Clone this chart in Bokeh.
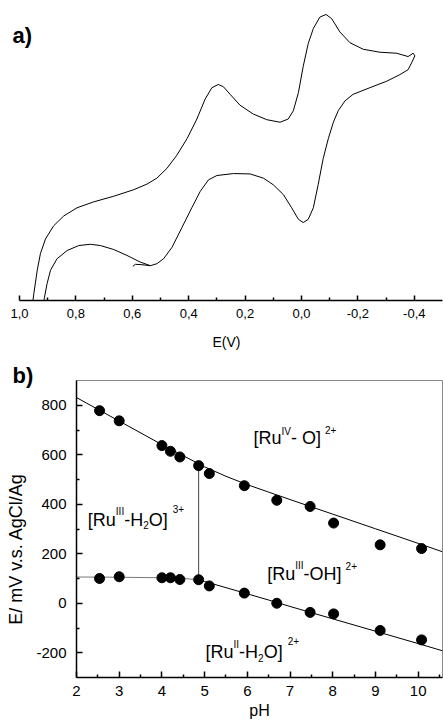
import numpy as np
from bokeh.plotting import figure
from bokeh.models import Range1d, FixedTicker, Label
from bokeh.embed import file_html
from bokeh.resources import INLINE

FONT = "Liberation Sans"

# ---------------- panel a) : cyclic voltammogram ----------------
cv_E = [0.955, 0.949, 0.937, 0.926, 0.908, 0.879, 0.843, 0.796, 0.737, 0.666,
        0.595, 0.548, 0.513, 0.477, 0.442, 0.406, 0.371, 0.342, 0.318, 0.295,
        0.277, 0.253, 0.218, 0.171, 0.123, 0.076, 0.047, 0.029, 0.011, -0.006,
        -0.024, -0.042, -0.065, -0.087, -0.107, -0.136, -0.172, -0.219, -0.278, -0.337,
        -0.378, -0.396, -0.402, -0.390, -0.378, -0.349, -0.302, -0.242, -0.183, -0.154,
        -0.130, -0.113, -0.095, -0.077, -0.059, -0.042, -0.024, -0.006, 0.011, 0.035,
        0.064, 0.100, 0.135, 0.182, 0.241, 0.300, 0.330, 0.359, 0.389, 0.424,
        0.459, 0.489, 0.513, 0.536, 0.572, 0.619, 0.666, 0.713, 0.749, 0.790,
        0.831, 0.867, 0.890, 0.902, 0.912, 0.916]
cv_I = [-6, 7.3, 30.7, 47.3, 62.3, 75.7, 85.7, 94, 100, 105.7,
        112.3, 118, 124, 134, 147.3, 164, 184, 204, 215.7, 219,
        216.7, 209, 198, 189, 183.3, 180.7, 184, 192.3, 210.7, 237.3,
        260.7, 275.7, 287.3, 290, 285.7, 272.3, 261.3, 254.7, 251.7, 250.7,
        247.3, 250.7, 248, 240.7, 234, 229, 222.3, 215.7, 209, 202.3,
        192.3, 180.7, 164, 144, 117.3, 94, 82.3, 79, 82.3, 94,
        107.3, 117.3, 124, 128.3, 128.7, 126.7, 122.3, 110.7, 94, 74,
        54, 42.3, 37.3, 35.3, 39, 45.7, 51.7, 55.7, 57, 55.7,
        50.7, 42.3, 30.7, 17.3, 2.3, -9.3]
tail_E = [0.598, 0.589, 0.566, 0.536]
tail_I = [34.7, 36.7, 36.3, 35.3]

e_ticks = [1.0, 0.8, 0.6, 0.4, 0.2, 0.0, -0.2, -0.4]
e_tick_labels = ["1,0", "0,8", "0,6", "0,4", "0,2", "0,0", "-0,2", "-0,4"]
e_minor = [0.9, 0.7, 0.5, 0.3, 0.1, -0.1, -0.3]

# ---------------- panel b) : Pourbaix diagram ----------------
pH_vals = [2.54, 3.0, 4.0, 4.2, 4.42, 4.86, 5.11, 5.93, 6.69, 7.47, 8.02, 9.11, 10.08]
E_upper = [778, 737, 637, 614, 591, 556, 524, 475, 416, 391, 324, 236, 221]
E_lower = [100, 107, 103, 103, 96, 95, 70, 41, 0, -37, -43, -110, -148]

upper_fit_pH = [2, 3, 4, 4.5, 5, 5.5, 6, 6.5, 7, 8, 9, 10, 10.57]
upper_fit_E = [831, 736, 641, 596, 551, 513, 479, 449, 419, 360, 301, 242, 208]
lower_acid_pH = [2, 3, 4, 4.5, 4.86]
lower_acid_E = [106, 105, 103, 100, 95]
lower_basic_pH = [4.86, 5, 5.5, 6, 6.5, 7, 8, 9, 10, 10.57]
lower_basic_E = [95, 88, 63, 38, 13, -13, -63, -113, -163, -192]
boundary_pH = [4.86, 4.86]
boundary_E = [557, 100]

ph_ticks = [2, 3, 4, 5, 6, 7, 8, 9, 10]
ph_minor = [2.5, 3.5, 4.5, 5.5, 6.5, 7.5, 8.5, 9.5, 10.5]
mv_ticks = [-200, 0, 200, 400, 600, 800]
mv_tick_labels = ["-200", "0", "200", "400", "600", "800"]
mv_minor = [-100, 100, 300, 500, 700]

# Arial / Liberation Sans advance widths (em) for the composite labels
W = {'[': 0.278, 'R': 0.722, 'u': 0.556, 'I': 0.278, 'V': 0.667, '-': 0.333,
     ' ': 0.278, 'O': 0.778, ']': 0.278, '2': 0.556, '+': 0.584, 'H': 0.722, '3': 0.556}


def tw(s, size):
    return sum(W[c] for c in s) * size


def rich_label(p, x, y, parts):
    off = 0.0
    for text, size, dy, gap in parts:
        off += gap
        p.add_layout(Label(x=x, y=y, x_offset=off, y_offset=dy, text=text,
                           text_font=FONT, text_font_size=f"{size}px",
                           text_color="black", text_align="left",
                           text_baseline="alphabetic"))
        off += tw(text, size)


def style_axis(axis, tick_in, minor_in, size):
    axis.axis_line_width = 1.5
    axis.axis_line_color = "black"
    axis.major_tick_in = tick_in
    axis.major_tick_out = 0
    axis.minor_tick_in = minor_in
    axis.minor_tick_out = 0
    axis.major_tick_line_width = 1.5
    axis.minor_tick_line_width = 1.5
    axis.major_tick_line_color = "black"
    axis.minor_tick_line_color = "black"
    axis.major_label_text_font = FONT
    axis.major_label_text_font_size = size
    axis.major_label_text_color = "black"
    axis.axis_label_text_font = FONT
    axis.axis_label_text_font_style = "normal"
    axis.axis_label_text_color = "black"


# ---------- figure a ----------
p1 = figure(width=443, height=352, x_range=Range1d(1.0319, -0.5), y_range=Range1d(0, 294),
            output_backend="svg", toolbar_location=None, y_axis_type=None,
            min_border_left=10, min_border_right=1, min_border_top=10, min_border_bottom=48)
p1.grid.visible = False
p1.outline_line_color = None
p1.background_fill_color = "white"
p1.border_fill_color = "white"
p1.line(cv_E, cv_I, line_color="black", line_width=1)
p1.line(tail_E, tail_I, line_color="black", line_width=1)

ax = p1.xaxis[0]
ax.ticker = FixedTicker(ticks=e_ticks, minor_ticks=e_minor)
ax.major_label_overrides = dict(zip(e_ticks, e_tick_labels))
ax.bounds = (-0.5, 1.0)
style_axis(ax, 5, 3, "13px")
ax.major_label_standoff = 8
ax.axis_label = "E(V)"
ax.axis_label_text_font_size = "14px"
ax.axis_label_standoff = 13

p1.add_layout(Label(x=1.025, y=268.6, text="a)", text_font=FONT, text_font_size="22px",
                    text_font_style="bold", text_color="black", text_baseline="alphabetic"))

# ---------- figure b ----------
p2 = figure(width=443, height=372, x_range=Range1d(2, 10.57), y_range=Range1d(-300, 900),
            output_backend="svg", toolbar_location=None, title="b)",
            min_border_left=76, min_border_right=1, min_border_top=28, min_border_bottom=47)
p2.grid.visible = False
p2.outline_line_color = "#8a8a8a"
p2.outline_line_width = 1
p2.background_fill_color = "white"
p2.border_fill_color = "white"
p2.title.align = "left"
p2.title.offset = -64
p2.title.standoff = -14
p2.title.text_font = FONT
p2.title.text_font_size = "22px"
p2.title.text_font_style = "bold"
p2.title.text_color = "black"

p2.line(upper_fit_pH, upper_fit_E, line_color="black", line_width=1)
p2.line(lower_acid_pH, lower_acid_E, line_color="#777777", line_width=1)
p2.line(lower_basic_pH, lower_basic_E, line_color="black", line_width=1)
p2.line(boundary_pH, boundary_E, line_color="#444444", line_width=1)
p2.scatter(pH_vals, E_upper, size=10, fill_color="black", line_color="black")
p2.scatter(pH_vals, E_lower, size=10, fill_color="black", line_color="black")

xa = p2.xaxis[0]
xa.ticker = FixedTicker(ticks=ph_ticks, minor_ticks=ph_minor)
style_axis(xa, 6, 3, "15px")
xa.major_label_standoff = 8
xa.axis_label = "pH"
xa.axis_label_text_font_size = "16px"
xa.axis_label_standoff = 3

ya = p2.yaxis[0]
ya.ticker = FixedTicker(ticks=mv_ticks, minor_ticks=mv_minor)
ya.major_label_overrides = dict(zip(mv_ticks, mv_tick_labels))
style_axis(ya, 6, 3, "15px")
ya.major_label_standoff = 10
ya.axis_label = "E/ mV v.s. AgCl/Ag" + "\u00a0" * 8
ya.axis_label_text_font_size = "18px"
ya.axis_label_standoff = 7

rich_label(p2, 6.145, 665.7, [("[Ru", 18, 0, 0), ("IV", 10, 6.5, 0), ("- O]", 18, 0, 0),
                              ("2+", 10, 8, 4)])
rich_label(p2, 2.265, 336.4, [("[Ru", 18, 0, 0), ("III", 10, 8, 0), ("-H", 18, 0, 0),
                              ("2", 10, -5.5, 0), ("O]", 18, 0, 0), ("3+", 10, 11, 5)])
rich_label(p2, 6.466, 120.2, [("[Ru", 18, 0, 0), ("III", 10, 8, 0), ("-OH]", 18, 0, 0),
                              ("2+", 10, 8, 4)])
rich_label(p2, 5.021, -195, [("[Ru", 18, 0, 0), ("II", 10, 7, 0), ("-H", 18, 0, 0),
                             ("2", 10, -6, 0), ("O]", 18, 0, 0), ("2+", 10, 11, 5)])

open("out.html", "w").write(file_html([p1, p2], INLINE))
